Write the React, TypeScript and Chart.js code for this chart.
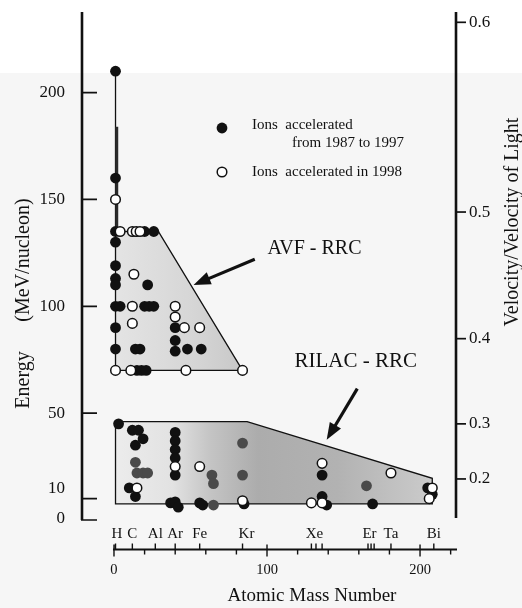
import React, { useEffect, useRef } from 'react';
import { Chart, registerables } from 'chart.js';

Chart.register(...registerables);

const SERIF = '"Liberation Serif", "Times New Roman", serif';

// Ions accelerated from 1987 to 1997 — mass number / energy (MeV/nucleon)
const earlyMass = [
  1, 1, 1, 1, 1, 1, 1, 1, 1, 1,
  20, 26, 22, 4, 20, 23, 26, 40,
  14, 17, 40, 40, 48, 57, 15, 18, 21,
  3, 12, 16, 19, 14, 10, 14,
  40, 40, 40, 40, 40, 37, 40, 42,
  56, 58, 85, 136, 136, 139, 169, 205, 208,
];
const earlyEnergy = [
  210, 160, 135, 130, 119, 113, 110, 100, 90, 80,
  135, 135, 110, 100, 100, 100, 100, 90,
  80, 80, 84, 79, 80, 80, 70, 70, 70,
  45, 42, 42, 38, 35, 15, 11,
  41, 37, 33, 29, 21, 8, 8.5, 6,
  8, 7, 7.5, 21, 11, 7, 7.5, 15, 12,
];

// Same period, printed in a darker half-tone inside the RILAC band
const shadedMass = [14, 15, 19, 22, 64, 65, 65, 84, 84, 165];
const shadedEnergy = [27, 22, 22, 22, 21, 17, 7, 36, 21, 16];

// Ions accelerated in 1998
const newMass = [
  1, 4, 12, 14.5, 17, 13, 12, 40, 40, 12, 46, 56, 1, 11, 47, 84,
  15, 40, 56, 84, 129, 136, 136, 181, 208, 206,
];
const newEnergy = [
  150, 135, 135, 135, 135, 115, 100, 100, 95, 92, 90, 90, 70, 70, 70, 70,
  15, 25, 25, 9, 8, 8, 26.5, 22, 15, 10,
];

// Operating regions of the two injector + RRC schemes
const avfMass = [1, 1, 29, 84];
const avfEnergy = [70, 135, 135, 70];
const avfStemTop = 210;
const avfStemBandTop = 184;
const rilacMass = [1, 1, 87, 208, 208];
const rilacEnergy = [7.5, 46, 46, 19.5, 7.5];

// Axis ticks
const energyTicks = [10, 50, 100, 150, 200];
const betaTicks = ['0.2', '0.3', '0.4', '0.5', '0.6'];
const massMajorTicks = [0, 100, 200];
const massMinorTicks = [20, 40, 60, 80, 120, 140, 160, 180, 220];
const elementNames = ['H', 'C', 'Al', 'Ar', 'Fe', 'Kr', 'Xe', 'Er', 'Ta', 'Bi'];
const elementMass = [1, 12, 27, 40, 56, 84, 131, 167, 181, 209];
const isotopeMarks = [1, 12, 27, 40, 56, 84, 129, 132, 136, 166, 168, 170, 181, 209];

const NUCLEON_MASS = 931.494; // MeV

const toPoints = (xs: number[], ys: number[]) => xs.map((x, i) => ({ x, y: ys[i] }));

function drawArrow(ctx: CanvasRenderingContext2D, x1: number, y1: number, x2: number, y2: number) {
  const ang = Math.atan2(y2 - y1, x2 - x1);
  const headLen = 17;
  const headHalf = 6.5;
  const bx = x2 - headLen * Math.cos(ang);
  const by = y2 - headLen * Math.sin(ang);
  ctx.save();
  ctx.strokeStyle = '#111';
  ctx.fillStyle = '#111';
  ctx.lineWidth = 3.2;
  ctx.lineCap = 'butt';
  ctx.beginPath();
  ctx.moveTo(x1, y1);
  ctx.lineTo(bx + 2 * Math.cos(ang), by + 2 * Math.sin(ang));
  ctx.stroke();
  ctx.beginPath();
  ctx.moveTo(x2, y2);
  ctx.lineTo(bx + headHalf * Math.sin(ang), by - headHalf * Math.cos(ang));
  ctx.lineTo(bx - headHalf * Math.sin(ang), by + headHalf * Math.cos(ang));
  ctx.closePath();
  ctx.fill();
  ctx.restore();
}

const figurePlugin = {
  id: 'figure',
  beforeDraw(chart: any) {
    const { ctx, width, height } = chart;
    ctx.save();
    ctx.fillStyle = '#ffffff';
    ctx.fillRect(0, 0, width, height);
    ctx.fillStyle = '#f6f6f6';
    ctx.fillRect(0, 73, width, height - 73);
    ctx.restore();
  },
  beforeDatasetsDraw(chart: any) {
    const { ctx } = chart;
    const px = (v: number) => chart.scales.x.getPixelForValue(v);
    const py = (v: number) => chart.scales.y.getPixelForValue(v);
    ctx.save();

    // RILAC - RRC band
    const g = ctx.createLinearGradient(px(1), 0, px(208), 0);
    g.addColorStop(0, '#ececec');
    g.addColorStop(0.18, '#e2e2e2');
    g.addColorStop(0.3, '#c4c4c4');
    g.addColorStop(0.45, '#acacac');
    g.addColorStop(0.7, '#b2b2b2');
    g.addColorStop(1, '#cbcbcb');
    ctx.beginPath();
    rilacMass.forEach((m, i) => {
      const x = px(m);
      const y = py(rilacEnergy[i]);
      if (i === 0) ctx.moveTo(x, y);
      else ctx.lineTo(x, y);
    });
    ctx.closePath();
    ctx.fillStyle = g;
    ctx.fill();
    ctx.strokeStyle = '#111';
    ctx.lineWidth = 1.3;
    ctx.stroke();

    // AVF - RRC region
    const g2 = ctx.createLinearGradient(px(1), 0, px(84), 0);
    g2.addColorStop(0, '#e4e4e4');
    g2.addColorStop(0.6, '#d6d6d6');
    g2.addColorStop(1, '#c8c8c8');
    ctx.beginPath();
    avfMass.forEach((m, i) => {
      const x = px(m);
      const y = py(avfEnergy[i]);
      if (i === 0) ctx.moveTo(x, y);
      else ctx.lineTo(x, y);
    });
    ctx.closePath();
    ctx.fillStyle = g2;
    ctx.fill();
    ctx.stroke();

    // proton stem of the AVF region
    ctx.beginPath();
    ctx.moveTo(px(1), py(avfEnergy[1]));
    ctx.lineTo(px(1), py(avfStemTop));
    ctx.lineWidth = 1.3;
    ctx.stroke();
    ctx.beginPath();
    ctx.moveTo(px(1.8), py(avfEnergy[1]));
    ctx.lineTo(px(1.8), py(avfStemBandTop));
    ctx.lineWidth = 3;
    ctx.strokeStyle = '#2a2a2a';
    ctx.stroke();
    ctx.restore();
  },
  afterDatasetsDraw(chart: any) {
    const { ctx, chartArea } = chart;
    const { left, right, top, bottom } = chartArea;
    const px = (v: number) => chart.scales.x.getPixelForValue(v);
    const py = (v: number) => chart.scales.y.getPixelForValue(v);
    ctx.save();
    ctx.strokeStyle = '#111';
    ctx.fillStyle = '#111';

    // Left energy axis
    ctx.lineWidth = 2.6;
    ctx.beginPath();
    ctx.moveTo(left, top);
    ctx.lineTo(left, bottom);
    ctx.stroke();
    ctx.lineWidth = 1.7;
    ctx.beginPath();
    ctx.moveTo(left - 1, bottom);
    ctx.lineTo(left + 15, bottom);
    energyTicks.forEach((e) => {
      ctx.moveTo(left, py(e));
      ctx.lineTo(left + 15, py(e));
    });
    ctx.stroke();
    ctx.font = `17px ${SERIF}`;
    ctx.textAlign = 'right';
    ctx.textBaseline = 'middle';
    energyTicks.forEach((e) => {
      const shift = e === 10 ? -10 : 0;
      ctx.fillText(String(e), left - 17, py(e) + shift);
    });
    ctx.fillText('0', left - 17, py(0) - 1);

    // Left title
    ctx.font = `20px ${SERIF}`;
    ctx.textAlign = 'center';
    ctx.textBaseline = 'alphabetic';
    ctx.save();
    ctx.translate(29, 380);
    ctx.rotate(-Math.PI / 2);
    ctx.fillText('Energy', 0, 0);
    ctx.restore();
    ctx.save();
    ctx.translate(29, 260);
    ctx.rotate(-Math.PI / 2);
    ctx.fillText('(MeV/nucleon)', 0, 0);
    ctx.restore();

    // Right velocity axis
    ctx.lineWidth = 2.6;
    ctx.beginPath();
    ctx.moveTo(right, top);
    ctx.lineTo(right, bottom - 2);
    ctx.stroke();
    ctx.lineWidth = 1.7;
    ctx.font = `17px ${SERIF}`;
    ctx.textAlign = 'left';
    ctx.textBaseline = 'middle';
    betaTicks.forEach((b) => {
      const beta = parseFloat(b);
      const e = NUCLEON_MASS * (1 / Math.sqrt(1 - beta * beta) - 1);
      const y = py(e);
      ctx.beginPath();
      ctx.moveTo(right, y);
      ctx.lineTo(right + 10, y);
      ctx.stroke();
      ctx.fillText(b, right + 13, y);
    });
    ctx.font = `20px ${SERIF}`;
    ctx.textAlign = 'center';
    ctx.textBaseline = 'alphabetic';
    ctx.save();
    ctx.translate(518, 222);
    ctx.rotate(-Math.PI / 2);
    ctx.fillText('Velocity/Velocity of Light', 0, 0);
    ctx.restore();

    // Mass-number axis
    const ax = bottom + 29.5;
    ctx.lineWidth = 2;
    ctx.beginPath();
    ctx.moveTo(px(0) - 1, ax);
    ctx.lineTo(right + 1, ax);
    ctx.stroke();
    ctx.lineWidth = 1.4;
    ctx.beginPath();
    massMajorTicks.forEach((m) => {
      ctx.moveTo(px(m), ax - 5);
      ctx.lineTo(px(m), ax + 7);
    });
    massMinorTicks.forEach((m) => {
      ctx.moveTo(px(m), ax);
      ctx.lineTo(px(m), ax + 5);
    });
    isotopeMarks.forEach((m) => {
      ctx.moveTo(px(m), ax - 6);
      ctx.lineTo(px(m), ax);
    });
    ctx.stroke();
    ctx.font = `14.5px ${SERIF}`;
    ctx.textAlign = 'center';
    ctx.textBaseline = 'alphabetic';
    massMajorTicks.forEach((m) => ctx.fillText(String(m), px(m), ax + 24));
    ctx.font = `15px ${SERIF}`;
    elementNames.forEach((n, i) => {
      const shift = n === 'H' ? 1.5 : n === 'Kr' ? 4 : 0;
      ctx.fillText(n, px(elementMass[i]) + shift, ax - 12);
    });
    ctx.font = `19px ${SERIF}`;
    ctx.fillText('Atomic Mass Number', 312, ax + 51);

    // Region labels and arrows
    ctx.font = `20px ${SERIF}`;
    ctx.fillText('AVF - RRC', px(131), py(124.5));
    ctx.font = `21px ${SERIF}`;
    ctx.fillText('RILAC - RRC', px(158), py(71.5));
    drawArrow(ctx, px(92), py(122), px(52), py(110));
    drawArrow(ctx, px(159), py(61.5), px(139), py(37.5));

    // Key
    const kx = left + 140;
    const ky = top + 116;
    ctx.beginPath();
    ctx.arc(kx, ky, 5.4, 0, Math.PI * 2);
    ctx.fill();
    ctx.beginPath();
    ctx.arc(kx, ky + 44, 4.8, 0, Math.PI * 2);
    ctx.fillStyle = '#fff';
    ctx.fill();
    ctx.lineWidth = 1.5;
    ctx.stroke();
    ctx.fillStyle = '#111';
    ctx.font = `15px ${SERIF}`;
    ctx.textAlign = 'left';
    ctx.fillText('Ions  accelerated', kx + 30, ky + 1);
    ctx.fillText('from 1987 to 1997', kx + 70, ky + 19);
    ctx.fillText('Ions  accelerated in 1998', kx + 30, ky + 48);

    ctx.restore();
  },
};

export default function App() {
  const canvasRef = useRef<HTMLCanvasElement | null>(null);

  useEffect(() => {
    if (!canvasRef.current) return;
    const chart = new Chart(canvasRef.current, {
      type: 'scatter',
      data: {
        datasets: [
          {
            label: 'Ions accelerated in 1998',
            data: toPoints(newMass, newEnergy),
            pointRadius: 4.8,
            pointBorderWidth: 1.5,
            backgroundColor: '#ffffff',
            borderColor: '#111111',
            order: 0,
          },
          {
            label: 'Ions accelerated from 1987 to 1997',
            data: toPoints(earlyMass, earlyEnergy),
            pointRadius: 5.4,
            pointBorderWidth: 0,
            backgroundColor: '#111111',
            borderColor: '#111111',
            order: 1,
          },
          {
            label: 'Ions accelerated from 1987 to 1997 (RILAC)',
            data: toPoints(shadedMass, shadedEnergy),
            pointRadius: 5.4,
            pointBorderWidth: 0,
            backgroundColor: '#4a4a4a',
            borderColor: '#4a4a4a',
            order: 2,
          },
        ],
      },
      options: {
        animation: false,
        responsive: true,
        maintainAspectRatio: false,
        events: [],
        layout: { padding: { left: 82, right: 66, top: 12, bottom: 88 } },
        scales: {
          x: { type: 'linear', min: -20.9, max: 223.5, display: false },
          y: { type: 'linear', min: 0, max: 237.7, display: false },
        },
        plugins: {
          legend: { display: false },
          tooltip: { enabled: false },
        },
      },
      plugins: [figurePlugin],
    } as any);
    return () => chart.destroy();
  }, []);

  return (
    <div style={{ position: 'fixed', left: 0, top: 0, width: 522, height: 608, background: '#fff' }}>
      <canvas ref={canvasRef} />
    </div>
  );
}
